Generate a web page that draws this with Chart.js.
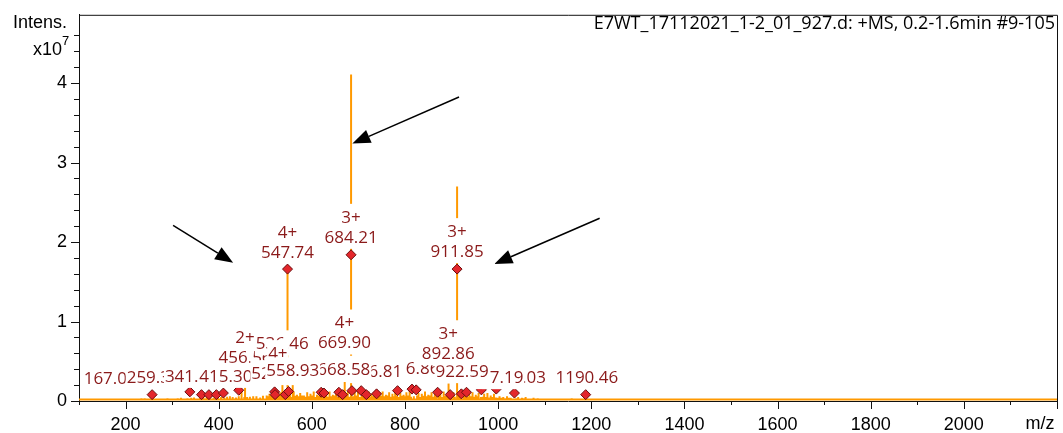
<!DOCTYPE html>
<html>
<head>
<meta charset="utf-8">
<script src="https://cdn.jsdelivr.net/npm/chart.js@4.4.1/dist/chart.umd.min.js"></script>
<style>
  body { margin: 0; background: #fff; }
  canvas { display: block; }
</style>
</head>
<body>
<canvas id="espectro" width="1063" height="433"></canvas>
<script>
// Picos principais (m/z, intensidade em x10^7)
const picoMz = [456.56, 536.46, 547.74, 558.93, 669.90, 684.21, 892.86, 911.85];
const picoInt = [0.20, 0.22, 1.68, 0.20, 0.24, 4.11, 0.22, 2.70];

// Ruído de fundo
const ruidoMz = [105, 118, 131, 142, 156, 171, 186, 199, 213, 228, 241, 255, 268, 283, 297, 312, 326, 341, 354, 367, 381, 398, 412, 424, 437, 449, 461, 474, 489,
  503, 509, 516, 522, 528, 533, 541, 553, 561, 568, 575, 583, 590, 597, 604, 611, 617, 624, 631, 638, 645, 652, 659, 664, 677, 692, 699, 711, 722, 728, 734,
  745, 752, 759, 766, 773, 779, 790, 797, 803, 810, 829, 836, 843, 850, 857, 864, 876, 883, 890, 904, 916, 926, 938, 945, 952, 958, 970, 977, 984, 991,
  1003, 1011, 1019, 1027, 1043, 1051, 1059, 1068, 1076, 1085, 1094, 1103, 1114, 1127, 1139, 1151, 1158, 1172, 1196,
  1218, 1264, 1299, 1332, 1366, 1374, 1421, 1452, 1508, 1561, 1640, 1725, 1890, 2050, 2181,
  110, 125, 137, 149, 163, 178, 192, 206, 220, 234, 248, 261, 275, 290, 305, 319, 333, 347, 360, 374, 389, 405, 418, 430, 443, 455, 467, 481, 495,
  506, 512, 519, 525, 531, 537, 545, 549, 556, 564, 571, 579, 586, 593, 600, 607, 614, 621, 627, 634, 641, 648, 655, 662, 671, 674, 681, 688, 695, 703,
  707, 715, 719, 725, 731, 738, 742, 748, 755, 762, 769, 776, 783, 787, 793, 800, 806, 813, 819, 826, 832, 839, 846, 853, 860, 867, 872, 879, 886, 894,
  899, 907, 920, 930, 934, 941, 948, 955, 963, 967, 974, 980, 988, 995, 999,
  1007, 1015, 1023, 1031, 1039, 1047, 1055, 1063, 1072, 1080, 1090, 1098, 1108, 1120, 1133, 1145, 1165, 1180, 1188];
const ruidoInt = [0.02, 0.015, 0.03, 0.02, 0.015, 0.025, 0.02, 0.03, 0.015, 0.02, 0.035, 0.025, 0.02, 0.03, 0.015, 0.035, 0.025, 0.04, 0.03, 0.045, 0.035, 0.05, 0.04, 0.06, 0.045, 0.13, 0.05, 0.06, 0.045,
  0.07, 0.09, 0.10, 0.13, 0.08, 0.11, 0.09, 0.10, 0.12, 0.08, 0.10, 0.07, 0.11, 0.09, 0.12, 0.08, 0.13, 0.10, 0.09, 0.12, 0.08, 0.11, 0.13, 0.10, 0.12, 0.11, 0.13, 0.10, 0.12, 0.09, 0.11,
  0.10, 0.12, 0.08, 0.11, 0.09, 0.12, 0.10, 0.08, 0.11, 0.13, 0.10, 0.09, 0.12, 0.08, 0.11, 0.09, 0.10, 0.12, 0.09, 0.11, 0.10, 0.12, 0.09, 0.11, 0.08, 0.10, 0.09, 0.10, 0.07, 0.09,
  0.06, 0.05, 0.06, 0.04, 0.05, 0.04, 0.05, 0.03, 0.04, 0.035, 0.03, 0.025, 0.03, 0.02, 0.025, 0.02, 0.035, 0.02, 0.025,
  0.015, 0.02, 0.03, 0.015, 0.03, 0.025, 0.02, 0.015, 0.015, 0.02, 0.015, 0.015, 0.01, 0.01, 0.03,
  0.025, 0.02, 0.03, 0.02, 0.025, 0.03, 0.02, 0.03, 0.025, 0.035, 0.03, 0.025, 0.03, 0.035, 0.03, 0.04, 0.035, 0.045, 0.04, 0.05, 0.04, 0.05, 0.055, 0.05, 0.06, 0.05, 0.055, 0.06, 0.065,
  0.06, 0.07, 0.05, 0.065, 0.07, 0.055, 0.06, 0.07, 0.05, 0.065, 0.06, 0.07, 0.055, 0.06, 0.07, 0.05, 0.065, 0.06, 0.07, 0.055, 0.06, 0.07, 0.05, 0.065, 0.06, 0.07, 0.055, 0.06, 0.07, 0.05,
  0.065, 0.06, 0.07, 0.055, 0.06, 0.07, 0.05, 0.065, 0.06, 0.07, 0.055, 0.06, 0.07, 0.05, 0.065, 0.06, 0.07, 0.055, 0.06, 0.07, 0.05, 0.065, 0.06, 0.07, 0.055, 0.06, 0.07, 0.05, 0.065, 0.06,
  0.07, 0.055, 0.06, 0.065, 0.05, 0.06, 0.055, 0.06, 0.05, 0.055, 0.05, 0.045, 0.05, 0.045, 0.04,
  0.04, 0.035, 0.04, 0.03, 0.035, 0.03, 0.035, 0.025, 0.03, 0.025, 0.03, 0.02, 0.025, 0.02, 0.02, 0.015, 0.02, 0.015, 0.02];
const linhaBase = 0.02;

// Marcadores (losangos)
const marcaMz = [547.74, 684.21, 911.85, 257, 338, 363, 379, 395, 410, 443, 520, 521, 543, 550, 620, 626, 658, 666, 686, 706, 717, 739, 784, 815, 824, 870, 897, 921, 932, 964, 996, 1035, 1188];
const marcaInt = [1.66, 1.84, 1.66, 0.08, 0.115, 0.08, 0.08, 0.08, 0.10, 0.135, 0.115, 0.08, 0.08, 0.12, 0.11, 0.10, 0.11, 0.08, 0.13, 0.13, 0.08, 0.09, 0.13, 0.15, 0.14, 0.11, 0.08, 0.09, 0.11, 0.14, 0.15, 0.10, 0.08];

// Rótulos dos picos (na ordem de desenho)
const rotuloMz = [456.56, 536.46, 167.02, 259.31, 341.41, 415.30, 816.86, 736.81, 668.58, 527.02, 558.93, 1035.03, 997.19, 922.59, 1190.46, 669.90, 892.86, 547.74, 684.21, 911.85];
const rotuloCarga = ['2+', '', '', '', '', '', '', '', '', '4+', '', '', '', '', '', '4+', '3+', '4+', '3+', '3+'];
const rotuloNivel = [0.425, 0.60, 0.16, 0.175, 0.19, 0.19, 0.29, 0.25, 0.28, 0.225, 0.26, 0.175, 0.175, 0.25, 0.175, 0.61, 0.475, 1.75, 1.94, 1.76];

// Setas (início -> ponta)
const setaDeMz = [916, 302, 1218];
const setaDeInt = [3.825, 2.21, 2.30];
const setaAteMz = [687, 431, 992];
const setaAteInt = [3.24, 1.74, 1.725];

const titulo = 'E7WT_17112021_1-2_01_927.d: +MS, 0.2-1.6min #9-105';

// Monta o espectro em barras (sticks)
const sticks = [];
ruidoMz.forEach((m, i) => sticks.push([m, ruidoInt[i]]));
picoMz.forEach((m, i) => sticks.push([m, picoInt[i]]));
sticks.sort((a, b) => a[0] - b[0]);
const espectro = [{ x: 100, y: linhaBase }];
sticks.forEach(([m, h]) => {
  espectro.push({ x: m, y: linhaBase }, { x: m, y: h }, { x: m, y: linhaBase });
});
espectro.push({ x: 2200, y: linhaBase });

const marcas = marcaMz.map((m, i) => ({ x: m, y: marcaInt[i] }));

const corTexto = '#8b1a1a';
const LINHA = 20;

const ehInteiro = v => Math.abs(v - Math.round(v)) < 1e-6;

const desenhos = {
  id: 'desenhos',
  afterDatasetsDraw(chart) {
    const { ctx, scales: { x, y } } = chart;
    ctx.save();
    // rótulos com fundo branco
    ctx.font = '17px "Open Sans"';
    ctx.textAlign = 'center';
    ctx.textBaseline = 'middle';
    rotuloMz.forEach((mz, i) => {
      const px = x.getPixelForValue(mz);
      const base = y.getPixelForValue(rotuloNivel[i]);
      const linhas = rotuloCarga[i] ? [rotuloCarga[i], mz.toFixed(2)] : [mz.toFixed(2)];
      linhas.forEach((t, j) => {
        const cy = base - LINHA * (linhas.length - j) + LINHA / 2;
        const w = ctx.measureText(t).width;
        ctx.fillStyle = '#fff';
        ctx.fillRect(px - w / 2 - 1, cy - LINHA / 2 - 3, w + 2, LINHA + 5);
        ctx.fillStyle = corTexto;
        ctx.fillText(t, px, cy + 1);
      });
    });
    // setas
    ctx.strokeStyle = '#000';
    ctx.fillStyle = '#000';
    ctx.lineWidth = 1.5;
    setaDeMz.forEach((m, i) => {
      const x0 = x.getPixelForValue(m), y0 = y.getPixelForValue(setaDeInt[i]);
      const x1 = x.getPixelForValue(setaAteMz[i]), y1 = y.getPixelForValue(setaAteInt[i]);
      const ang = Math.atan2(y1 - y0, x1 - x0);
      const comp = 18, larg = 7;
      const bx = x1 - comp * Math.cos(ang), by = y1 - comp * Math.sin(ang);
      ctx.beginPath();
      ctx.moveTo(x0, y0);
      ctx.lineTo(bx, by);
      ctx.stroke();
      ctx.beginPath();
      ctx.moveTo(x1, y1);
      ctx.lineTo(bx + larg * Math.sin(ang), by - larg * Math.cos(ang));
      ctx.lineTo(bx - larg * Math.sin(ang), by + larg * Math.cos(ang));
      ctx.closePath();
      ctx.fill();
    });
    ctx.restore();
  },
  afterDraw(chart) {
    const { ctx, chartArea: a, scales: { x, y } } = chart;
    ctx.save();
    // moldura superior e direita
    ctx.strokeStyle = '#111';
    ctx.lineWidth = 1;
    ctx.beginPath();
    ctx.moveTo(a.left, a.top + 0.5);
    ctx.lineTo(a.right + 0.5, a.top + 0.5);
    ctx.lineTo(a.right + 0.5, a.bottom);
    ctx.stroke();
    // marcas dos eixos
    ctx.beginPath();
    x.ticks.forEach(t => {
      const px = Math.round(x.getPixelForValue(t.value)) + 0.5;
      const len = t.value % 200 === 0 ? 8 : 4;
      ctx.moveTo(px, a.bottom);
      ctx.lineTo(px, a.bottom + len);
    });
    y.ticks.forEach(t => {
      if (t.value > 4.81) return;
      const py = Math.round(y.getPixelForValue(t.value)) + 0.5;
      const len = ehInteiro(t.value) ? 8 : 5;
      ctx.moveTo(a.left - len, py);
      ctx.lineTo(a.left, py);
    });
    ctx.stroke();
    // título
    ctx.fillStyle = '#000';
    ctx.font = '18px "Open Sans"';
    ctx.textAlign = 'right';
    ctx.textBaseline = 'alphabetic';
    ctx.fillText(titulo, 1055, 29);
    // rótulos dos eixos
    ctx.font = '18px "Liberation Sans"';
    ctx.fillText('Intens.', 67, 28);
    ctx.fillText('x10', 62, 55);
    ctx.textAlign = 'left';
    ctx.font = '13px "Liberation Sans"';
    ctx.fillText('7', 62, 45);
    ctx.textAlign = 'center';
    ctx.font = '18px "Liberation Sans"';
    ctx.fillText('m/z', 1040, 429);
    ctx.restore();
  }
};

new Chart(document.getElementById('espectro'), {
  type: 'scatter',
  data: {
    datasets: [
      {
        data: marcas,
        pointStyle: 'rectRot',
        pointRadius: 5,
        pointBackgroundColor: '#e3262b',
        pointBorderColor: '#6b0d0d',
        pointBorderWidth: 1,
        showLine: false
      },
      {
        data: espectro,
        showLine: true,
        borderColor: '#ff9900',
        borderWidth: 2,
        pointRadius: 0,
        tension: 0
      }
    ]
  },
  plugins: [desenhos],
  options: {
    responsive: false,
    animation: false,
    devicePixelRatio: 1,
    layout: { padding: { top: 12, right: 5, left: 0, bottom: 0 } },
    plugins: { legend: { display: false }, tooltip: { enabled: false } },
    scales: {
      x: {
        type: 'linear',
        min: 100,
        max: 2200,
        afterFit(scale) { scale.height = 32; },
        grid: { display: true, drawOnChartArea: false, drawTicks: true, tickLength: 8, tickColor: 'rgba(0,0,0,0)' },
        border: { display: true, color: '#111', width: 1 },
        ticks: {
          stepSize: 100,
          autoSkip: false,
          maxRotation: 0,
          padding: 5,
          color: '#000',
          font: { family: 'Liberation Sans', size: 18 },
          callback: v => (v % 200 === 0 && v <= 2000) ? String(v) : ''
        }
      },
      y: {
        min: 0,
        max: 4.86,
        afterFit(scale) { scale.width = 79; },
        grid: { display: true, drawOnChartArea: false, drawTicks: true, tickLength: 8, tickColor: 'rgba(0,0,0,0)' },
        border: { display: true, color: '#111', width: 1 },
        ticks: {
          stepSize: 0.2,
          autoSkip: false,
          padding: 4,
          color: '#000',
          font: { family: 'Liberation Sans', size: 18 },
          callback: v => ehInteiro(v) ? String(Math.round(v)) : ''
        }
      }
    }
  }
});
</script>
</body>
</html>
